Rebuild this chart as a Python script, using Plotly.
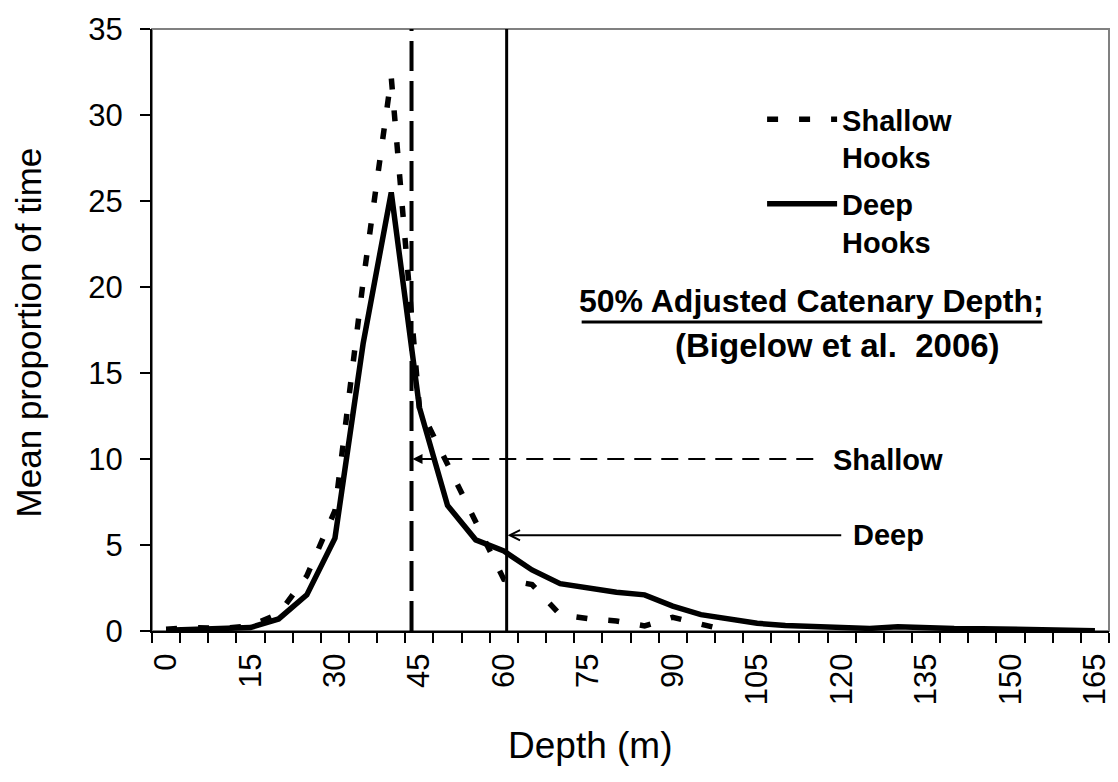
import plotly.graph_objects as go

# ---------------- data ----------------
depth = [0, 5, 10, 15, 20, 25, 30, 35, 40, 45, 50, 55, 60, 65, 70, 75, 80, 85,
         90, 95, 100, 105, 110, 115, 120, 125, 130, 135, 140, 145, 150, 155, 160, 165]

deep_hooks = [0.05, 0.1, 0.1, 0.2, 0.7, 2.1, 5.4, 16.7, 25.5, 13.0, 7.3, 5.3, 4.65, 3.55,
              2.75, 2.5, 2.25, 2.1, 1.45, 0.95, 0.7, 0.45, 0.32, 0.28, 0.2, 0.15, 0.25,
              0.16, 0.14, 0.13, 0.12, 0.06, 0.04, 0.02]

shallow_hooks = [0.1, 0.2, 0.15, 0.3, 1.0, 3.2, 7.0, 20.3, 32.2, 13.0, 9.7, 6.4, 3.0, 2.7,
                 0.95, 0.72, 0.58, 0.3, 0.8, 0.4, 0.0,
                 None, None, None, None, None, None, None, None, None, None, None, None, None]

x_tick_vals = [0, 15, 30, 45, 60, 75, 90, 105, 120, 135, 150, 165]
x_tick_labels = ["0", "15", "30", "45", "60", "75", "90", "105", "120", "135", "150", "165"]
y_tick_vals = [0, 5, 10, 15, 20, 25, 30, 35]

shallow_catenary = 43.6   # 50% adjusted catenary depth, shallow hooks (m)
deep_catenary = 60.5      # 50% adjusted catenary depth, deep hooks (m)

# ---------------- layout geometry ----------------
W, H = 1118, 782
L, R, T, B = 152, 6, 29, 151
PW = W - L - R
PH = H - T - B
FONT = "Liberation Sans, Arial, sans-serif"


def px(x):
    return (x - L) / PW


def py(y):
    return 1 - (y - T) / PH


fig = go.Figure()

fig.add_trace(go.Scatter(
    x=depth, y=shallow_hooks, mode="lines", name="Shallow<br>Hooks", legendgroup="shallow",
    line=dict(color="black", width=5.5, dash="11px,21px"),
    connectgaps=False,
))
fig.add_trace(go.Scatter(
    x=depth, y=deep_hooks, mode="lines", name="Deep<br>Hooks", legendgroup="deep",
    line=dict(color="black", width=5.5),
))

shapes = [
    # plot-area border (grey)
    dict(type="rect", xref="paper", yref="paper", x0=0, x1=1, y0=0, y1=1,
         line=dict(color="#808080", width=2), layer="below"),
    # catenary depth lines
    dict(type="line", xref="x", yref="y", x0=shallow_catenary, x1=shallow_catenary, y0=0, y1=35,
         line=dict(color="black", width=4, dash="30px,10px")),
    dict(type="line", xref="x", yref="y", x0=deep_catenary, x1=deep_catenary, y0=0, y1=35,
         line=dict(color="black", width=3)),
    # dashed pointer line for "Shallow"
    dict(type="line", xref="x", yref="y", x0=shallow_catenary + 1.2, x1=115.3, y0=10, y1=10,
         line=dict(color="black", width=2, dash="17px,10px")),
    # underline of the heading
    dict(type="line", xref="paper", yref="paper", x0=px(583), x1=px(1045), y0=py(322), y1=py(322),
         line=dict(color="black", width=3)),
]

annotations = [
    # arrowheads
    dict(x=shallow_catenary, y=10, xref="x", yref="y", ax=14, ay=0, text="",
         showarrow=True, arrowhead=2, arrowsize=1, arrowwidth=2, arrowcolor="black", standoff=1),
    dict(x=deep_catenary, y=5.57, xref="x", yref="y", ax=120.2, ay=5.57, axref="x", ayref="y",
         text="", showarrow=True, arrowhead=5, arrowsize=1, arrowwidth=2, arrowcolor="black",
         standoff=1),
    # labels
    dict(x=px(833), y=py(460), xref="paper", yref="paper", text="<b>Shallow</b>",
         showarrow=False, xanchor="left", yanchor="middle",
         font=dict(family=FONT, size=29, color="black")),
    dict(x=px(853), y=py(535), xref="paper", yref="paper", text="<b>Deep</b>",
         showarrow=False, xanchor="left", yanchor="middle",
         font=dict(family=FONT, size=29, color="black")),
    dict(x=px(814), y=py(301), xref="paper", yref="paper", text="<b>50% Adjusted Catenary Depth;</b>",
         showarrow=False, xanchor="center", yanchor="middle",
         font=dict(family=FONT, size=32, color="black")),
    dict(x=px(840), y=py(345), xref="paper", yref="paper", text="<b>(Bigelow et al.  2006)</b>",
         showarrow=False, xanchor="center", yanchor="middle",
         font=dict(family=FONT, size=33, color="black")),
    # axis titles
    dict(x=px(591), y=py(745), xref="paper", yref="paper", text="Depth (m)",
         showarrow=False, xanchor="center", yanchor="middle",
         font=dict(family=FONT, size=37, color="black")),
    dict(x=px(28), y=py(332), xref="paper", yref="paper", text="Mean proportion of time",
         showarrow=False, xanchor="center", yanchor="middle", textangle=-90,
         font=dict(family=FONT, size=35, color="black")),
]

fig.update_layout(
    width=W, height=H,
    margin=dict(l=L, r=R, t=T, b=B, pad=0),
    paper_bgcolor="white", plot_bgcolor="white",
    font=dict(family=FONT, color="black"),
    shapes=shapes,
    annotations=annotations,
    showlegend=True,
    legend=dict(
        x=px(764), y=py(94), xanchor="left", yanchor="top",
        font=dict(family=FONT, size=29, color="black", weight="bold"),
        itemwidth=70, valign="top", bgcolor="rgba(0,0,0,0)", borderwidth=0,
        tracegroupgap=6,
    ),
    xaxis=dict(
        range=[-2.5, 167.5], tickmode="array", tickvals=x_tick_vals, ticktext=x_tick_labels,
        tickangle=-90, ticks="outside", ticklen=10, tickcolor="rgba(0,0,0,0)",
        tickfont=dict(family=FONT, size=31, color="black"), ticklabelstandoff=-2,
        showline=True, linecolor="black", linewidth=2, showgrid=False, zeroline=False,
        minor=dict(tickmode="linear", tick0=-2.5, dtick=5, ticks="outside", ticklen=10,
                   tickcolor="black", tickwidth=1.5, showgrid=False),
    ),
    yaxis=dict(
        range=[0, 35], tickmode="array", tickvals=y_tick_vals,
        ticks="outside", ticklen=10, tickcolor="black", tickwidth=1.5,
        tickfont=dict(family=FONT, size=31, color="black"), ticklabelstandoff=11,
        showline=True, linecolor="black", linewidth=2, showgrid=False, zeroline=False,
    ),
)

fig.write_html("out.html", config={"displayModeBar": False})
